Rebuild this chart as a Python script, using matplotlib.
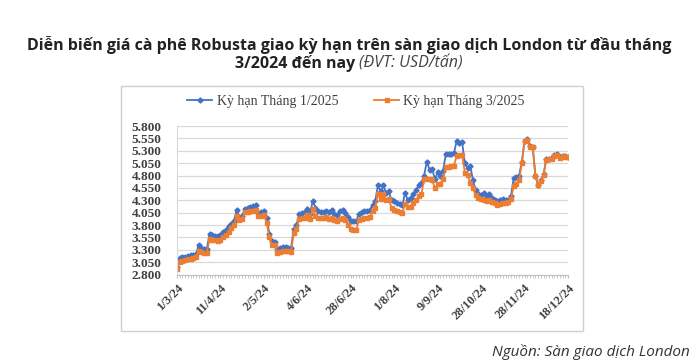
import matplotlib
matplotlib.use('Agg')
import matplotlib.pyplot as plt
from matplotlib.patches import Rectangle
from matplotlib.ticker import FuncFormatter

# ky han thang 1/2025 (USD/tan)
jan25 = [2960, 3130, 3150, 3160, 3170, 3190, 3200, 3210, 3390, 3330,
         3310, 3320, 3620, 3600, 3580, 3570, 3600, 3650, 3700, 3780,
         3830, 3880, 4110, 3920, 3980, 4130, 4150, 4160, 4180, 4200,
         4050, 4060, 4080, 3950, 3620, 3480, 3460, 3310, 3340, 3350,
         3350, 3340, 3330, 3720, 3800, 4020, 4040, 4060, 4120, 4030,
         4290, 4150, 4080, 4060, 4070, 4090, 4060, 4100, 4030, 4010,
         4080, 4100, 4050, 3960, 3890, 3880, 3880, 4030, 4060, 4080,
         4090, 4100, 4200, 4280, 4600, 4480, 4600, 4450, 4480, 4300,
         4280, 4250, 4220, 4200, 4450, 4300, 4350, 4420, 4500, 4600,
         4650, 4800, 5080, 4920, 4930, 4720, 4870, 4780, 4900, 5230,
         5230, 5240, 5250, 5500, 5460, 5470, 5050, 4950, 5000, 4700,
         4500, 4420, 4400, 4450, 4370, 4420, 4350, 4300, 4280, 4300,
         4330, 4310, 4300, 4380, 4750, 4760, 4800, 5080, 5500, 5540,
         5400, 5380, 4800, 4600, 4700, 4830, 5130, 5140, 5150, 5220,
         5230, 5170, 5200, 5190, 5180]

# ky han thang 3/2025
mar25 = [2920, 3060, 3080, 3100, 3110, 3120, 3130, 3150, 3280, 3250,
         3240, 3240, 3510, 3500, 3490, 3480, 3500, 3560, 3600, 3660,
         3740, 3800, 3990, 3900, 3920, 4060, 4070, 4080, 4090, 4100,
         3980, 3990, 4000, 3850, 3550, 3400, 3400, 3230, 3260, 3270,
         3280, 3270, 3260, 3640, 3720, 3920, 3940, 3950, 4000, 3930,
         4130, 3990, 3950, 3940, 3950, 3960, 3930, 3940, 3900, 3880,
         3930, 3940, 3900, 3800, 3720, 3700, 3700, 3900, 3930, 3940,
         3950, 3960, 4080, 4150, 4430, 4330, 4420, 4300, 4320, 4150,
         4100, 4080, 4060, 4050, 4230, 4160, 4170, 4250, 4300, 4380,
         4420, 4720, 4720, 4720, 4700, 4540, 4620, 4630, 4720, 4980,
         4980, 4990, 5000, 5200, 5220, 5220, 4860, 4820, 4650, 4550,
         4400, 4350, 4320, 4300, 4290, 4300, 4270, 4250, 4200, 4230,
         4250, 4240, 4260, 4330, 4580, 4620, 4700, 5050, 5500, 5520,
         5380, 5370, 4790, 4600, 4690, 4810, 5120, 5130, 5140, 5200,
         5210, 5160, 5190, 5180, 5170]

tick_labels = ['1/3/24', '11/4/24', '2/5/24', '4/6/24', '28/6/24',
               '1/8/24', '9/9/24', '28/10/24', '28/11/24', '18/12/24']
label_step = 16
y_ticks = list(range(2800, 5801, 250))

blue = '#4472C4'
orange = '#ED7D31'
W, H = 698, 364

fig = plt.figure(figsize=(W / 100, H / 100), dpi=100)
fig.patch.set_facecolor('white')

# khung bieu do
fig.patches.append(Rectangle((121 / W, 1 - 331 / H), 462 / W, 245 / H,
                             transform=fig.transFigure, fill=False,
                             edgecolor='#d0d0d0', linewidth=1.0))

ax = fig.add_axes([177 / W, 1 - 274.5 / H, 391 / W, 148.5 / H])
x = list(range(len(jan25)))
ax.plot(x, jan25, color=blue, lw=1.3, marker='D', ms=2.6, label='Kỳ hạn Tháng 1/2025')
ax.plot(x, mar25, color=orange, lw=1.3, marker='s', ms=3.4, label='Kỳ hạn Tháng 3/2025')

ax.set_xlim(0, len(jan25) - 1)
ax.set_ylim(2800, 5800)
ax.set_yticks(y_ticks)
ax.yaxis.set_major_formatter(FuncFormatter(lambda v, p: f'{int(v):,}'.replace(',', '.')))
ax.grid(axis='y', color='#d9d9d9', lw=0.9)
ax.set_axisbelow(True)

ax.set_xticks(range(0, len(jan25), label_step))
ax.set_xticklabels(tick_labels, rotation=45, ha='right', rotation_mode='anchor')
ax.set_xticks(range(len(jan25)), minor=True)
ax.tick_params(axis='x', which='both', length=2.5, color='#bfbfbf', pad=3,
               labelsize=9, labelcolor='#404040')
ax.tick_params(axis='y', length=0, labelsize=9.5, labelcolor='#404040', pad=11)
for lab in ax.get_xticklabels() + ax.get_yticklabels():
    lab.set_family('Liberation Serif')
    lab.set_fontweight('bold')
for side in ['top', 'right']:
    ax.spines[side].set_visible(False)
ax.spines['left'].set_color('#d9d9d9')
ax.spines['bottom'].set_color('#bfbfbf')

leg = ax.legend(loc='center', bbox_to_anchor=(0.458, 1.165), ncol=2, frameon=False,
                prop={'family': 'Liberation Serif', 'size': 10}, handlelength=1.8,
                columnspacing=2.6, handletextpad=0.3)
for t in leg.get_texts():
    t.set_color('#404040')

# tieu de
fig.text(0.5, 1 - 45 / H, 'Diễn biến giá cà phê Robusta giao kỳ hạn trên sàn giao dịch London từ đầu tháng',
         ha='center', va='center', fontsize=11.5, fontweight='bold', family='Open Sans', color='#222222')
fig.canvas.draw()
r = fig.canvas.get_renderer()
t1 = fig.text(0, 1 - 64 / H, '3/2024 đến nay ', ha='left', va='center', fontsize=11.5,
              fontweight='bold', family='Open Sans', color='#222222')
t2 = fig.text(0, 1 - 64 / H, '(ĐVT: USD/tấn)', ha='left', va='center', fontsize=11.5,
              style='italic', family='Open Sans', color='#444444')
w1 = t1.get_window_extent(r).width
w2 = t2.get_window_extent(r).width
x0 = (W - w1 - w2) / 2
t1.set_x(x0 / W)
t2.set_x((x0 + w1) / W)

fig.text(690 / W, 1 - 352 / H, 'Nguồn: Sàn giao dịch London', ha='right', va='center',
         fontsize=11, style='italic', family='Open Sans', color='#333333')

fig.savefig('out.png', dpi=100)
